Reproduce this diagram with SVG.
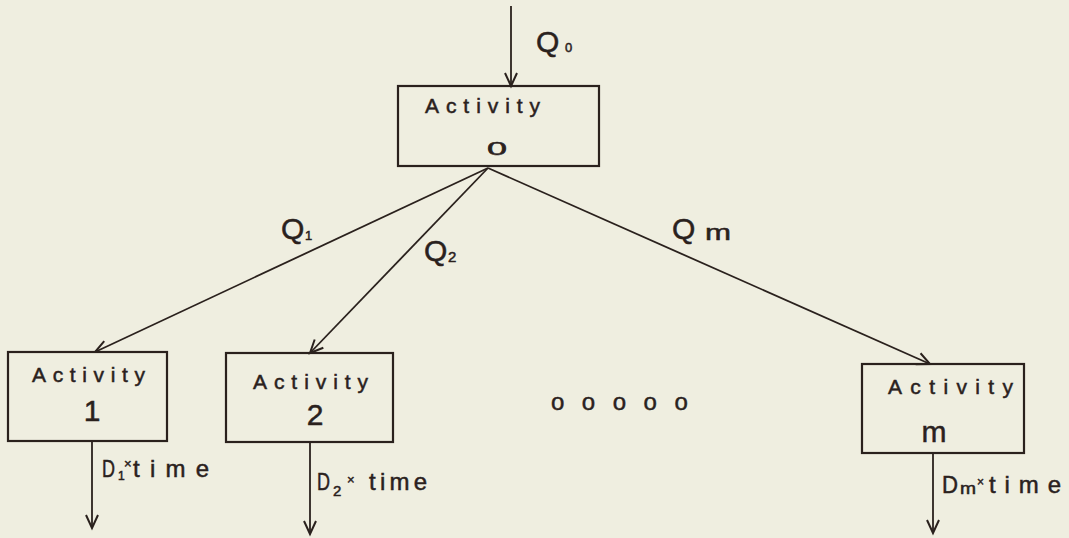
<svg xmlns="http://www.w3.org/2000/svg" width="1069" height="538" viewBox="0 0 1069 538">
<defs>
<style>
.bg{fill:#efeee0}
.box{fill:none;stroke:#2a211d;stroke-width:2.2}
.ln{fill:none;stroke:#2a211d;stroke-width:1.8}
text{font-family:"Liberation Sans","DejaVu Sans",sans-serif;fill:#2a211d;stroke:#2a211d;stroke-width:0.5}
.act{font-size:21px}
.num{font-size:30px}
.q{font-size:30px}
.sub{font-size:13px}
.d{font-size:24px}
</style>
<marker id="arr" markerUnits="userSpaceOnUse" markerWidth="20" markerHeight="20" refX="14" refY="7" orient="auto" viewBox="0 0 20 14">
<path d="M1,1 L14,7 L1,13" fill="none" stroke="#2a211d" stroke-width="2"/>
</marker>
</defs>
<rect class="bg" x="0" y="0" width="1069" height="538"/>

<g id="connectors">
<line class="ln" x1="511" y1="6" x2="511" y2="86" marker-end="url(#arr)"/>
<line class="ln" x1="488" y1="168" x2="95" y2="352" marker-end="url(#arr)"/>
<line class="ln" x1="488" y1="168" x2="310" y2="353" marker-end="url(#arr)"/>
<line class="ln" x1="488" y1="168" x2="930" y2="364" marker-end="url(#arr)"/>
<line class="ln" x1="92" y1="441" x2="92" y2="528" marker-end="url(#arr)"/>
<line class="ln" x1="310" y1="442" x2="310" y2="534" marker-end="url(#arr)"/>
<line class="ln" x1="933" y1="453" x2="933" y2="533" marker-end="url(#arr)"/>
<text class="q" x="536" y="52">Q<tspan class="sub" x="565" y="52">0</tspan></text>
<text class="q" x="281" y="239">Q<tspan class="sub" x="305" y="240">1</tspan></text>
<text class="q" x="424" y="261">Q<tspan font-size="15px" x="448" y="262">2</tspan></text>
<text class="q" x="672" y="239">Q<tspan font-size="22px" x="705" y="240" textLength="26" lengthAdjust="spacingAndGlyphs">m</tspan></text>
<text class="d" x="102" y="477" textLength="13" lengthAdjust="spacingAndGlyphs">D</text>
<text font-size="12px" x="118" y="480">1</text>
<text font-size="13px" x="124" y="468">×</text>
<text class="d" x="133" y="477" textLength="76" lengthAdjust="spacing">time</text>
<text class="d" x="317" y="490" textLength="13" lengthAdjust="spacingAndGlyphs">D</text>
<text font-size="15px" x="333" y="496">2</text>
<text font-size="13px" x="347" y="484">×</text>
<text class="d" x="369" y="490" textLength="58" lengthAdjust="spacing">time</text>
<text class="d" x="942" y="493" textLength="16" lengthAdjust="spacingAndGlyphs">D</text>
<text font-size="16px" x="960" y="494" textLength="16" lengthAdjust="spacingAndGlyphs">m</text>
<text font-size="12px" x="977" y="486">×</text>
<text class="d" x="989" y="493" textLength="72" lengthAdjust="spacing">time</text>
</g>

<g id="node-activity-0">
<rect class="box" x="398" y="86" width="201" height="80"/>
<text class="act" x="425" y="113" textLength="115" lengthAdjust="spacing">Activity</text>
<text x="487" y="155" font-size="18px" textLength="20" lengthAdjust="spacingAndGlyphs">0</text>
</g>

<g id="node-activity-1">
<rect class="box" x="8" y="352" width="159" height="89"/>
<text class="act" x="32" y="382" textLength="113" lengthAdjust="spacing">Activity</text>
<text class="num" x="92" y="421" text-anchor="middle">1</text>
</g>

<g id="node-activity-2">
<rect class="box" x="226" y="353" width="167" height="89"/>
<text class="act" x="253" y="389" textLength="115" lengthAdjust="spacing">Activity</text>
<text class="num" x="315" y="425" text-anchor="middle">2</text>
</g>

<g id="ellipsis">
<text x="551" y="410" font-size="24px" letter-spacing="17.5">ooooo</text>
</g>

<g id="node-activity-m">
<rect class="box" x="862" y="364" width="162" height="89"/>
<text class="act" x="888" y="394" textLength="125" lengthAdjust="spacing">Activity</text>
<text class="num" x="934" y="442" text-anchor="middle">m</text>
</g>
</svg>
